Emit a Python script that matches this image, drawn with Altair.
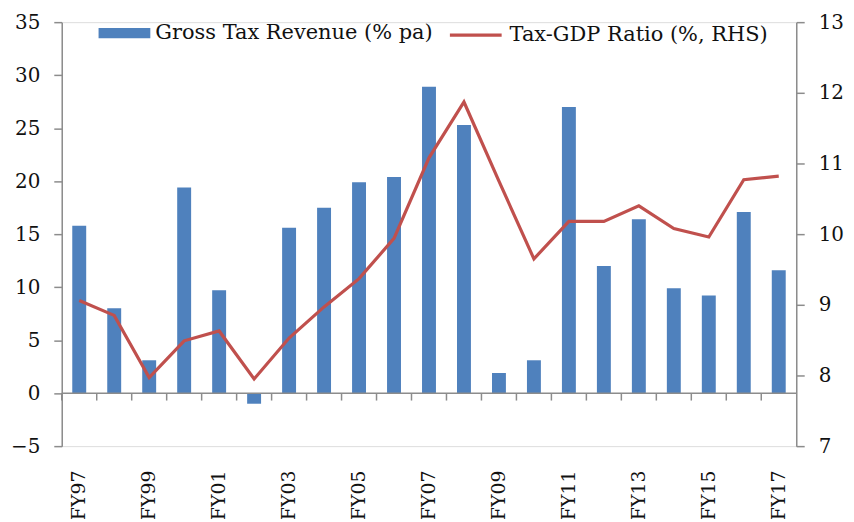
import altair as alt
import pandas as pd

years = ["FY97", "FY98", "FY99", "FY00", "FY01", "FY02", "FY03", "FY04", "FY05", "FY06", "FY07",
         "FY08", "FY09", "FY10", "FY11", "FY12", "FY13", "FY14", "FY15", "FY16", "FY17"]
gross_tax_growth = [15.8, 8.0, 3.1, 19.4, 9.7, -1.0, 15.6, 17.5, 19.9, 20.4, 28.9,
                    25.3, 1.9, 3.1, 27.0, 12.0, 16.4, 9.9, 9.2, 17.1, 11.6]
tax_gdp_ratio = [9.06, 8.85, 7.97, 8.49, 8.63, 7.95, 8.53, 8.97, 9.37, 9.94, 11.08,
                 11.87, 10.75, 9.65, 10.18, 10.18, 10.4, 10.08, 9.96, 10.77, 10.82]
label_years = ["FY97", "FY99", "FY01", "FY03", "FY05", "FY07", "FY09", "FY11", "FY13", "FY15", "FY17"]

bar_name = "Gross Tax Revenue (% pa)"
line_name = "Tax-GDP Ratio (%, RHS)"

df = pd.DataFrame({
    "year": years,
    "growth": gross_tax_growth,
    "ratio": tax_gdp_ratio,
    "s1": bar_name,
    "s2": line_name,
})

FONT = "DejaVu Serif"
AX = "#8c8c8c"
BLUE = "#4F81BD"
RED = "#C0504D"

shown = "[" + ",".join("'%s'" % v for v in label_years) + "]"
x_enc = alt.X("year:N", sort=years, title=None,
              scale=alt.Scale(paddingInner=0, paddingOuter=0),
              axis=alt.Axis(labelExpr="indexof(%s, datum.value) >= 0 ? datum.value : ''" % shown,
                            labelAngle=-90, domain=False, ticks=False,
                            labelPadding=24, labelFont=FONT, labelFontSize=19,
                            labelColor="#111", labelOverlap=False, labelBound=False))

yl_scale = alt.Scale(domain=[-5, 35], nice=False, zero=False)

bars = alt.Chart(df).mark_bar(size=14).encode(
    x=x_enc,
    y=alt.Y("growth:Q", scale=yl_scale, title=None,
            axis=alt.Axis(values=[-5, 0, 5, 10, 15, 20, 25, 30, 35], grid=False,
                          tickSize=8, tickColor=AX, domainColor=AX, domainWidth=1.5,
                          tickWidth=1.5, labelPadding=14, labelFont=FONT,
                          labelFontSize=20, labelColor="#111")),
    fill=alt.Fill("s1:N", scale=alt.Scale(range=[BLUE]),
                  legend=alt.Legend(title=None, orient="none", legendX=37, legendY=-15,
                                    symbolType="M-1,-0.2H1V0.2H-1Z", symbolSize=2704,
                                    symbolStrokeWidth=0, labelFont=FONT, labelFontSize=21,
                                    labelColor="#111", labelOffset=5, labelLimit=0)),
)

zero_line = alt.Chart(df).mark_rule(color=AX, strokeWidth=1.5).encode(
    y=alt.Y("z:Q", scale=yl_scale)
).transform_calculate(z="0").transform_filter("datum.year == 'FY97'")

ticks = alt.Chart(df).mark_rule(color=AX, strokeWidth=1.5).encode(
    x=alt.X("year:N", sort=years, bandPosition=0),
    y=alt.Y("t0:Q", scale=yl_scale),
    y2="t1:Q",
).transform_calculate(t0="0", t1="-0.7")

line = alt.Chart(df).mark_line(strokeWidth=3.2).encode(
    x=alt.X("year:N", sort=years),
    y=alt.Y("ratio:Q", scale=alt.Scale(domain=[7, 13], nice=False, zero=False), title=None,
            axis=alt.Axis(orient="right", values=[7, 8, 9, 10, 11, 12, 13], grid=False,
                          tickSize=8, tickColor=AX, domainColor=AX, domainWidth=1.5,
                          tickWidth=1.5, labelPadding=14, labelFont=FONT,
                          labelFontSize=20, labelColor="#111")),
    stroke=alt.Stroke("s2:N", scale=alt.Scale(range=[RED]),
                      legend=alt.Legend(title=None, orient="none", legendX=388, legendY=-15,
                                        symbolType="stroke", symbolSize=2704,
                                        symbolStrokeWidth=3.2, labelFont=FONT,
                                        labelFontSize=21, labelColor="#111",
                                        labelOffset=6, labelLimit=0)),
)

left = alt.layer(bars, zero_line, ticks)
chart = alt.layer(left, line).resolve_scale(y="independent").properties(
    width=738, height=426,
    autosize=alt.AutoSizeParams(type="none"),
    padding={"left": 54, "top": 13, "right": 50, "bottom": 72},
).configure_view(stroke=None).configure(background="white")

chart.save("out.html", embed_options={"renderer": "svg", "actions": False})
